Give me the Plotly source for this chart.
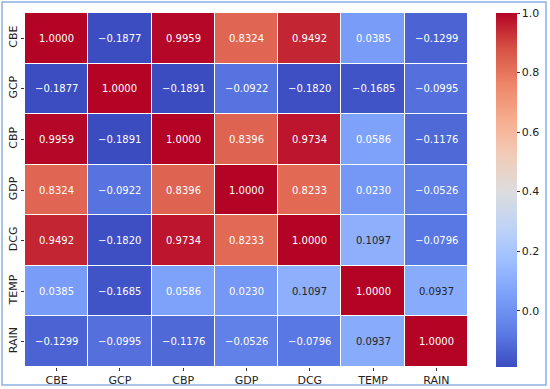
import plotly.graph_objects as go

labels = ["CBE", "GCP", "CBP", "GDP", "DCG", "TEMP", "RAIN"]
corr = [
    [1.0000, -0.1877, 0.9959, 0.8324, 0.9492, 0.0385, -0.1299],
    [-0.1877, 1.0000, -0.1891, -0.0922, -0.1820, -0.1685, -0.0995],
    [0.9959, -0.1891, 1.0000, 0.8396, 0.9734, 0.0586, -0.1176],
    [0.8324, -0.0922, 0.8396, 1.0000, 0.8233, 0.0230, -0.0526],
    [0.9492, -0.1820, 0.9734, 0.8233, 1.0000, 0.1097, -0.0796],
    [0.0385, -0.1685, 0.0586, 0.0230, 0.1097, 1.0000, 0.0937],
    [-0.1299, -0.0995, -0.1176, -0.0526, -0.0796, 0.0937, 1.0000],
]
cbar_ticks = [0.0, 0.2, 0.4, 0.6, 0.8, 1.0]

coolwarm_hex = ["#3b4cc0", "#5d7ce6", "#7b9ff9", "#9ebeff", "#c0d4f5", "#dddcdc",
                "#f2cbb7", "#f7ac8e", "#ee8468", "#d65244", "#b40426"]
colorscale = [[i / 10, c] for i, c in enumerate(coolwarm_hex)]

zmin = min(min(r) for r in corr)
zmax = 1.0


def hex_rgb(h):
    h = h.lstrip("#")
    return [int(h[i:i + 2], 16) / 255 for i in (0, 2, 4)]


def color_at(v):
    t = (v - zmin) / (zmax - zmin)
    t = max(0.0, min(1.0, t))
    pos = t * 10
    i = min(int(pos), 9)
    f = pos - i
    a, b = hex_rgb(coolwarm_hex[i]), hex_rgb(coolwarm_hex[i + 1])
    return [a[k] + (b[k] - a[k]) * f for k in range(3)]


def lum(rgb):
    def lin(c):
        return c / 12.92 if c <= 0.03928 else ((c + 0.055) / 1.055) ** 2.4
    r, g, b = [lin(c) for c in rgb]
    return 0.2126 * r + 0.7152 * g + 0.0722 * b


fig = go.Figure(go.Heatmap(
    z=corr, x=labels, y=labels,
    colorscale=colorscale, zmin=zmin, zmax=zmax,
    xgap=1, ygap=1,
    hoverongaps=False,
    colorbar=dict(
        x=1.063, xanchor="left", xref="paper",
        y=0.5, yanchor="middle", len=1.0, lenmode="fraction",
        thickness=21, thicknessmode="pixels",
        outlinewidth=0, xpad=0, ypad=0,
        tickvals=cbar_ticks, ticktext=[f"{t:.1f}" for t in cbar_ticks],
        ticks="outside", ticklen=3, tickcolor="#333333",
        tickfont=dict(family="DejaVu Sans", size=11, color="#222222"),
    ),
))

annotations = []
for i, row_lab in enumerate(labels):
    for j, col_lab in enumerate(labels):
        v = corr[i][j]
        col = "#262626" if lum(color_at(v)) > 0.408 else "#ffffff"
        txt = f"{v:.4f}".replace("-", "\u2212")
        annotations.append(dict(x=col_lab, y=row_lab, text=txt, showarrow=False,
                                font=dict(family="DejaVu Sans", size=10, color=col)))

fig.update_layout(
    width=550, height=389,
    margin=dict(l=25, r=82, t=13, b=22, autoexpand=False),
    paper_bgcolor="white", plot_bgcolor="white",
    annotations=annotations,
    xaxis=dict(showgrid=False, zeroline=False, ticks="outside", ticklen=3, automargin=False,
               tickcolor="#333333", tickfont=dict(family="DejaVu Sans", size=11, color="#222222")),
    yaxis=dict(showgrid=False, zeroline=False, autorange="reversed", ticks="outside", ticklen=3,
               tickangle=-90, tickcolor="#333333", automargin=False,
               tickfont=dict(family="DejaVu Sans", size=11, color="#222222")),
    shapes=[dict(type="rect", xref="paper", yref="paper",
                 x0=(2 - 25) / 443, x1=(546 - 25) / 443,
                 y0=(367 - 385) / 354, y1=(367 - 2) / 354,
                 line=dict(color="#8cb0e0", width=1.5), layer="above")],
)

fig.write_html("out.html", config={"displayModeBar": False},
               post_script="document.body.style.margin='0';document.body.style.overflow='hidden';")
